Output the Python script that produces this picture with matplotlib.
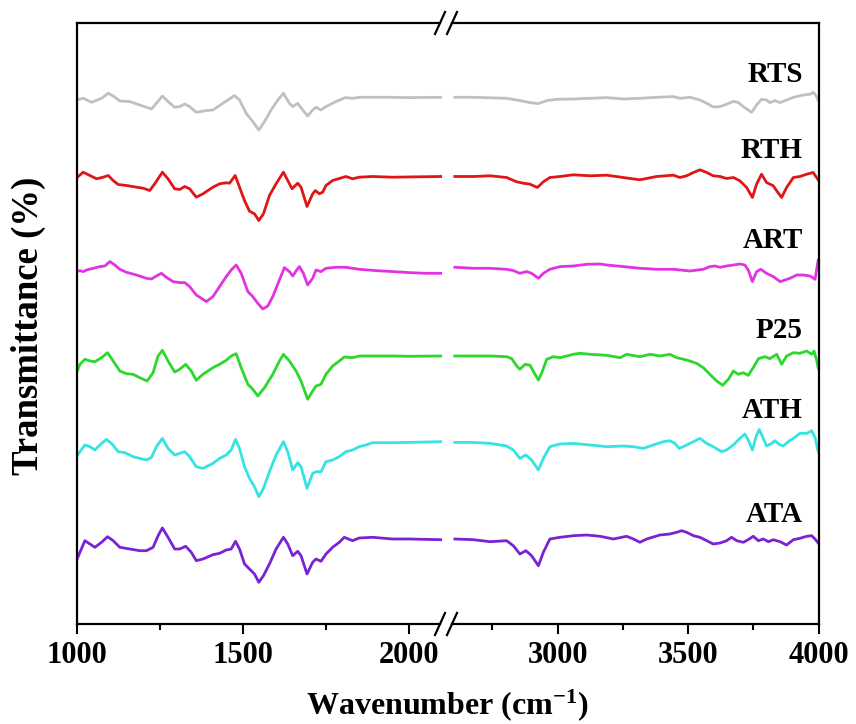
import numpy as np
import matplotlib
matplotlib.use("Agg")
import matplotlib.pyplot as plt
from matplotlib.lines import Line2D
from matplotlib.ticker import FixedLocator

plt.rcParams['font.family'] = ['Liberation Serif', 'DejaVu Serif']
plt.rcParams['font.weight'] = 'bold'
plt.rcParams['mathtext.fontset'] = 'custom'
plt.rcParams['mathtext.rm'] = 'Liberation Serif:bold'
plt.rcParams['mathtext.it'] = 'Liberation Serif:bold'
plt.rcParams['mathtext.bf'] = 'Liberation Serif:bold'

# FTIR spectra (relative transmittance, stacked later)
rts_wn = [1000, 1020, 1045, 1075, 1095, 1110, 1130, 1160, 1190, 1225, 1240, 1258, 1275, 1295, 1310, 1325,
          1340, 1360, 1390, 1410, 1440, 1475, 1490, 1510, 1530, 1548, 1565, 1585, 1605, 1622, 1640, 1650,
          1665, 1680, 1695, 1710, 1720, 1735, 1750, 1780, 1808, 1830, 1850, 1900, 1950, 2000, 2095,
          2606, 2677, 2804, 2855, 2894, 2926, 2958, 2996, 3060, 3124, 3188, 3251, 3315, 3379, 3443, 3468,
          3507, 3545, 3571, 3596, 3622, 3647, 3673, 3692, 3711, 3743, 3762, 3781, 3800, 3813, 3832, 3852,
          3877, 3903, 3941, 3967, 3979, 3990, 3998]
rts_t = [-2.7, -1, -5, -1, 4, 1.3, -3.7, -4.3, -7.7, -11.7, -6, 1.3, -4.3, -10, -9.3, -6.7,
         -9.3, -15, -13.3, -12.7, -6, 1.7, -2.7, -16, -24.3, -32.7, -24.3, -12.7, -2.7, 4, -6, -9.3,
         -6, -12.7, -18.7, -12.7, -10, -12.7, -9.3, -4.3, -0.3, -1, 0, 0, 0, -0.3, 0,
         0, 0, -1, -3.3, -5.3, -6.3, -3.3, -2, -1.7, -1, -0.3, -1.7, -1, 0, 0.7, -1,
         0, -2.7, -6, -9.7, -9.3, -7, -4, -5.3, -9.3, -15, -7.7, -2, -2.7, -5.3, -3.3, -5.3,
         -2.7, 0, 2.3, 3, 5, 1.7, -2.7]

rth_wn = [1000, 1020, 1040, 1060, 1080, 1095, 1110, 1125, 1150, 1180, 1200, 1220, 1235, 1258, 1275, 1295,
          1310, 1325, 1340, 1360, 1380, 1410, 1430, 1450, 1460, 1477, 1490, 1505, 1520, 1535, 1548, 1562,
          1580, 1600, 1622, 1635, 1648, 1665, 1675, 1693, 1710, 1718, 1730, 1740, 1750, 1770, 1810, 1830,
          1850, 1890, 1950, 2095,
          2606, 2677, 2741, 2804, 2843, 2868, 2894, 2922, 2945, 2970, 3009, 3060, 3124, 3188, 3251, 3315,
          3379, 3443, 3468, 3494, 3520, 3545, 3571, 3596, 3622, 3647, 3673, 3698, 3724, 3746, 3762, 3781,
          3800, 3826, 3839, 3858, 3877, 3903, 3928, 3954, 3979, 3998]
rth_t = [-1.3, 4.3, 1, -2.3, -0.7, 1, -4, -8, -9, -10.7, -11.7, -14, -7.3, 4.3, -2.3, -12.3,
         -13, -10, -12.3, -20.7, -17.3, -10.7, -7.3, -6.3, -6.7, 1, -10.7, -24, -34.7, -37.3, -44, -37.3,
         -19, -7.3, 4.3, -4, -12.3, -6.7, -10.7, -30, -17.3, -14, -17.3, -15.7, -9, -4, 0, -2.3,
         -0.7, 0, -0.7, 0,
         0, 0, 0.7, -1, -5.3, -6.7, -7.7, -11, -5.3, -1, 0, 1.7, 0.7, 1.3, -1, -3.3,
         0, 1.3, -1, 0.7, 4, 6.7, 4, 0.7, 0, -2, -1, -4.3, -11, -21, -7.7, 2.3,
         -6, -9.3, -14.3, -21, -11, -1, 0, 2.3, 4, -3.3]

art_wn = [1000, 1010, 1020, 1030, 1050, 1070, 1085, 1100, 1115, 1130, 1150, 1180, 1210, 1225, 1240, 1255,
          1270, 1290, 1310, 1325, 1340, 1360, 1390, 1410, 1430, 1450, 1465, 1480, 1495, 1515, 1530, 1545,
          1560, 1575, 1590, 1610, 1625, 1640, 1650, 1662, 1670, 1682, 1695, 1710, 1720, 1735, 1750, 1780,
          1810, 1850, 1900, 1950, 2000, 2050, 2095,
          2606, 2677, 2741, 2804, 2830, 2855, 2881, 2900, 2926, 2945, 2970, 3009, 3060, 3111, 3162, 3188,
          3251, 3315, 3379, 3443, 3507, 3558, 3583, 3603, 3622, 3647, 3673, 3698, 3717, 3730, 3746, 3762,
          3778, 3800, 3826, 3852, 3871, 3890, 3916, 3941, 3967, 3986, 3998]
art_t = [-3.3, -2.3, -3.3, -1.7, 0, 1.7, 2.3, 6.7, 3.3, -1, -4, -6.7, -10, -10.7, -7.7, -5,
         -9, -13.3, -14.3, -14.3, -18.3, -26.7, -33.3, -28.3, -18.3, -8.3, -1.7, 3.3, -5, -23.3, -28.3, -35,
         -40.7, -37.7, -28.3, -11.7, 0.7, -3.3, -7.7, -1.7, 1.7, -5, -16.7, -10, -1.7, -3.3, 0, 1,
         1, -1, -2.3, -3.3, -4.3, -5, -5,
         1, 0, 0, -1, -2.3, -5, -3.3, -5, -10, -5, -1, 1.7, 2.3, 4, 4.3, 3.3,
         1.7, 0, -1, -1, -2.7, -1, 1.7, 2.3, 1, 2.3, 3.3, 4.3, 3.3, -1.7, -13.3, -3.3,
         -1, -5, -8.3, -13.3, -11.7, -10, -6.7, -6.7, -7.7, -11, 8.3]

p25_wn = [1000, 1010, 1025, 1040, 1055, 1075, 1093, 1110, 1130, 1150, 1170, 1190, 1212, 1230, 1245, 1258,
          1275, 1295, 1310, 1328, 1345, 1360, 1380, 1410, 1430, 1450, 1465, 1480, 1495, 1515, 1530, 1545,
          1565, 1590, 1610, 1622, 1640, 1660, 1675, 1695, 1710, 1720, 1735, 1750, 1770, 1790, 1805, 1830,
          1850, 1900, 1950, 2000, 2095,
          2606, 2677, 2741, 2804, 2824, 2843, 2855, 2875, 2894, 2913, 2926, 2939, 2958, 2983, 3009, 3060,
          3085, 3124, 3188, 3239, 3264, 3315, 3354, 3392, 3430, 3456, 3494, 3532, 3558, 3583, 3609, 3632,
          3654, 3673, 3692, 3711, 3730, 3749, 3769, 3794, 3813, 3839, 3858, 3877, 3903, 3928, 3954, 3973,
          3982, 3992, 3998]
p25_t = [-16.7, -8.3, -3.3, -5, -5.7, -1.7, 3.3, -5, -15, -17.7, -18.3, -21.7, -25, -16.7, 0, 5.7,
         -5, -16, -13.3, -8.3, -15, -24.3, -18.3, -11.7, -8.3, -4.3, 0, 2.3, -11.7, -28.3, -33.3, -40,
         -31.7, -18.3, -5, 1.7, -5, -15, -25, -43.3, -35, -30, -28.3, -18.3, -10, -5, -1, -1.7,
         0, 0, 0, -0.3, 0,
         0, 0, 0, -0.7, -2.7, -10, -13.3, -8.3, -9.3, -18.3, -24, -16.7, -3.3, -0.7, -1.7, 1.7,
         2.7, 1.7, 0.7, -1.7, 1.7, -0.7, 1.7, 0, 1.7, -1.7, -4, -7.3, -11.7, -18.3, -25, -29.3,
         -23.3, -15, -18.3, -16.7, -19.3, -11.7, -2.7, -0.7, -2.7, 1.7, -8.3, 0, 3.3, 2.7, 5, 1.7,
         5, -4, -12]

ath_wn = [1000, 1010, 1025, 1040, 1055, 1075, 1090, 1105, 1125, 1145, 1170, 1190, 1210, 1225, 1240, 1258,
          1275, 1295, 1310, 1325, 1340, 1360, 1380, 1410, 1430, 1450, 1465, 1478, 1490, 1505, 1520, 1535,
          1548, 1562, 1580, 1600, 1622, 1635, 1650, 1665, 1675, 1693, 1710, 1720, 1735, 1750, 1770, 1790,
          1810, 1830, 1850, 1870, 1890, 1950, 2000, 2095,
          2606, 2677, 2741, 2804, 2830, 2855, 2878, 2900, 2926, 2945, 2970, 3009, 3060, 3124, 3188, 3251,
          3290, 3328, 3366, 3405, 3430, 3449, 3466, 3494, 3520, 3545, 3571, 3596, 3628, 3647, 3673, 3698,
          3717, 3730, 3746, 3760, 3772, 3785, 3800, 3820, 3832, 3852, 3864, 3883, 3903, 3928, 3954, 3973,
          3986, 3998]
ath_t = [-15, -10, -3.3, -5, -8.3, -1.7, 2.3, -1.7, -10, -11, -15, -16.7, -18.3, -15.7, -5, 3.3,
         -6.7, -13.3, -11.7, -10, -15, -25, -26.7, -21.7, -16.7, -13.3, -8.3, 2.3, -6.7, -25, -36.7, -45,
         -55, -46.7, -30, -13.3, 0, -10, -28.3, -21, -25, -46.7, -31.7, -30, -30, -20, -18.3, -15,
         -10, -8.3, -5, -3.3, -1, -1, -0.7, 0,
         -0.7, -0.7, -1.7, -4.3, -8.3, -16.7, -13.3, -18.3, -28.3, -16.7, -5, -2.3, -1.7, -3.3, -5, -4.3,
         -5, -6.7, -3.3, 0, 1, -1.7, -6.7, -3.3, 0, 3.3, -1.7, -5, -10, -8.3, -3.3, 3.3,
         7.7, 1.7, -8.3, 5, 12.3, 5, -4.3, -1.7, 1, -3.3, -4.3, 0, 3.3, 8.3, 8.3, 11,
         4.3, -10]

ata_wn = [1000, 1010, 1025, 1040, 1055, 1075, 1093, 1110, 1130, 1160, 1190, 1210, 1230, 1245, 1258, 1275,
          1295, 1310, 1328, 1345, 1360, 1380, 1410, 1430, 1450, 1465, 1478, 1490, 1505, 1520, 1535, 1548,
          1562, 1580, 1600, 1622, 1635, 1650, 1665, 1675, 1693, 1710, 1720, 1735, 1750, 1770, 1790, 1805,
          1830, 1850, 1890, 1950, 2000, 2095,
          2606, 2677, 2741, 2804, 2830, 2855, 2878, 2900, 2926, 2945, 2970, 3009, 3060, 3111, 3162, 3213,
          3264, 3290, 3315, 3341, 3392, 3430, 3456, 3475, 3494, 3520, 3545, 3571, 3596, 3622, 3647, 3666,
          3686, 3711, 3730, 3749, 3769, 3788, 3807, 3826, 3852, 3877, 3903, 3928, 3954, 3973, 3986, 3998]
ata_t = [-21, -13.3, -1.7, -5, -8.3, -3.3, 2.3, -1.7, -8.3, -10, -11.7, -11.7, -8.3, 3.3, 11, 1.7,
         -10, -10, -7.3, -13.3, -21.7, -20, -15.7, -14.3, -11, -10, -2.3, -10, -25, -30, -35, -43.3,
         -36.7, -25, -10, 1.7, -5, -16.7, -12.3, -16.7, -35, -23.3, -20, -22.3, -15, -8.3, -3.3, 1.7,
         -1.7, 1, 1.7, 0, 0, -0.7,
         0, -0.7, -2.7, -1.7, -6.7, -15, -11.7, -16.7, -26.7, -13.3, 0, 1.7, 3.3, 4, 2.7, 0,
         2.7, 0, -3.3, 0, 4, 5, 6.7, 8.3, 6.7, 3.3, 1.7, -1.7, -5, -4, -1.7, 1.7,
         -1.7, -3.3, -0.7, 2.7, -1.7, 0, -2.7, -0.7, -2.7, -6, -0.7, 0.7, 2.7, 3.3, 0, -4]

names = ['RTS', 'RTH', 'ART', 'P25', 'ATH', 'ATA']
wns = [rts_wn, rth_wn, art_wn, p25_wn, ath_wn, ata_wn]
trans = [rts_t, rth_t, art_t, p25_t, ath_t, ata_t]
colors = ['#c0c0c0', '#e01515', '#e233e2', '#2bd82b', '#35e3e3', '#7a22d4']
offsets = [522.7, 443.5, 351.7, 264, 178.3, 81]
label_y = [545, 470, 380, 290, 210, 105]

W, H = 856.0, 724.0
top_px, bot_px = 23, 624
fig = plt.figure(figsize=(8.56, 7.24), dpi=100)
ax1 = fig.add_axes([76.6 / W, (H - bot_px) / H, (446 - 76.6) / W, (bot_px - top_px) / H])
ax2 = fig.add_axes([446 / W, (H - bot_px) / H, (818.7 - 446) / W, (bot_px - top_px) / H])

for wn, t, c, off in zip(wns, trans, colors, offsets):
    wn = np.array(wn)
    y = np.array(t) + off
    lo = wn < 2300
    ax1.plot(wn[lo], y[lo], color=c, lw=2.0)
    ax2.plot(wn[~lo], y[~lo], color=c, lw=2.0)

for name, ly in zip(names, label_y):
    ax2.text(3940, ly, name, ha='right', va='center', fontsize=21, fontweight='bold')

ax1.set_xlim(1000, 2111)
ax2.set_xlim(2572, 4000)
for ax in (ax1, ax2):
    ax.set_ylim(620 - bot_px, 620 - top_px)
    ax.set_yticks([])
    ax.tick_params(axis='x', which='major', direction='out', length=7, width=1.5,
                   labelsize=22, pad=5, top=False)
    ax.tick_params(axis='x', which='minor', direction='out', length=4, width=1.5, top=False)
    for s in ax.spines.values():
        s.set_linewidth(1.6)

ax1.xaxis.set_major_locator(FixedLocator([1000, 1500, 2000]))
ax1.xaxis.set_minor_locator(FixedLocator([1250, 1750]))
ax2.xaxis.set_major_locator(FixedLocator([3000, 3500, 4000]))
ax2.xaxis.set_minor_locator(FixedLocator([2750, 3250, 3750]))

# broken axis: hide inner spines, leave a small gap, draw the // marks
ax1.spines['right'].set_visible(False)
ax2.spines['left'].set_visible(False)
ax1.spines['bottom'].set_bounds(1000, 2093)
ax1.spines['top'].set_bounds(1000, 2093)
ax2.spines['bottom'].set_bounds(2595, 4000)
ax2.spines['top'].set_bounds(2595, 4000)

for ypx in (bot_px, top_px):
    for xpx in (440, 452):
        fig.add_artist(Line2D([(xpx - 5) / W, (xpx + 5) / W],
                              [(H - ypx - 11) / H, (H - ypx + 11) / H],
                              transform=fig.transFigure, color='black', lw=1.6))

fig.text(447 / W, (H - 705) / H, 'Wavenumber (cm$^{-1}$)', ha='center', va='center',
         fontsize=23, fontweight='bold')
fig.text(28 / W, (H - 326) / H, 'Transmittance (%)', ha='center', va='center',
         rotation=90, fontsize=26.5, fontweight='bold')

fig.savefig('out.png', dpi=100)
